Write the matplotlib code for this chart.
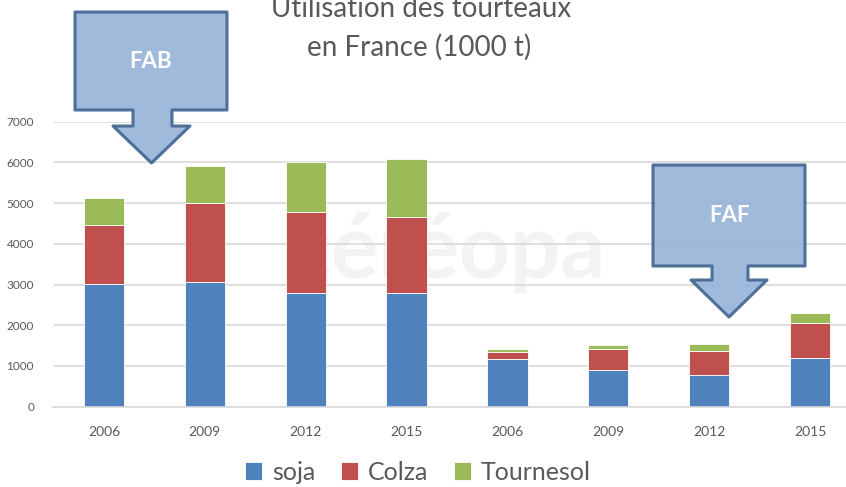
import numpy as np
import matplotlib.pyplot as plt
from matplotlib.patches import Polygon

# data (1000 t)
years = ['2006', '2009', '2012', '2015', '2006', '2009', '2012', '2015']
soja = [3020, 3070, 2800, 2800, 1170, 900, 770, 1200]
colza = [1440, 1930, 1980, 1870, 180, 510, 600, 860]
tournesol = [670, 900, 1235, 1410, 65, 100, 165, 245]
series_names = ['soja', 'Colza', 'Tournesol']
colors = ['#4F81BD', '#C0504D', '#9BBB59']

W, H = 846, 487
fig = plt.figure(figsize=(W/100, H/100), dpi=100)
plt.rcParams['font.family'] = ['Lato', 'DejaVu Sans']
txt = '#595959'

def px(x, y):
    return (x/W, 1 - y/H)

# axes spans past the right edge, like the cropped slide
x0, x1, y0, y1 = 53.5, 860.5, 406.7, 121.7
ax = fig.add_axes([x0/W, 1 - y0/H, (x1-x0)/W, (y0-y1)/H])
ax.set_xlim(-0.5, 7.5)
ax.set_ylim(0, 7000)

# faint watermark
ax.text(3.4, 3150, 'céréopa', fontsize=64, fontweight='bold', color='#F3F3F3',
        ha='center', va='baseline', zorder=0)

x = np.arange(len(years))
s = np.array(soja); c = np.array(colza); t = np.array(tournesol)
bw = 0.4
ax.bar(x, s, bw, color=colors[0], edgecolor='white', linewidth=0.6, zorder=2, label=series_names[0])
ax.bar(x, c, bw, bottom=s, color=colors[1], edgecolor='white', linewidth=0.6, zorder=2, label=series_names[1])
ax.bar(x, t, bw, bottom=s+c, color=colors[2], edgecolor='white', linewidth=0.6, zorder=2, label=series_names[2])

ax.set_yticks(range(0, 7001, 1000))
ax.yaxis.grid(True, color='#D9D9D9', linewidth=1.2, zorder=1)
ax.set_axisbelow(True)
for sp in ['top', 'right', 'left']:
    ax.spines[sp].set_visible(False)
ax.spines['bottom'].set_color('#D9D9D9')
ax.spines['bottom'].set_linewidth(1.2)
ax.set_xticks(x)
ax.set_xticklabels(years, fontsize=10, color=txt)
ax.tick_params(axis='x', length=0, pad=14)
ax.tick_params(axis='y', length=0, pad=14, labelsize=8.5, labelcolor=txt)

# title
fig.text(*px(421, 17), 'Utilisation des tourteaux', fontsize=20, color=txt, ha='center', va='baseline')
fig.text(*px(419, 56), 'en France (1000 t)', fontsize=20, color=txt, ha='center', va='baseline')

# callout arrows
def callout(bx0, bx1, by0, by1, nx0, nx1, ny, hx0, hx1, tip_y, label):
    tx = (hx0 + hx1) / 2
    pts = [(bx0, by0), (bx1, by0), (bx1, by1), (nx1, by1), (nx1, ny), (hx1, ny),
           (tx, tip_y), (hx0, ny), (nx0, ny), (nx0, by1), (bx0, by1)]
    poly = Polygon([px(a, b) for a, b in pts], closed=True, transform=fig.transFigure,
                   facecolor='#95B3D7', edgecolor='#41648F', linewidth=2.2, alpha=0.9,
                   joinstyle='round', zorder=5)
    fig.patches.append(poly)
    fig.text(*px((bx0 + bx1) / 2, (by0 + by1) / 2), label, fontsize=16, fontweight='bold',
             color='white', ha='center', va='center', zorder=6)

callout(75, 227, 12, 110, 133, 172, 126, 113, 190, 163, 'FAB')
callout(653, 805, 165, 266, 712, 748, 280, 691, 767, 317, 'FAF')

leg = fig.legend(loc='center', bbox_to_anchor=px(418, 472), ncol=3, frameon=False,
                 fontsize=18, labelcolor=txt, handlelength=0.7, handleheight=0.7,
                 handletextpad=0.4, columnspacing=1.0)

fig.savefig('out.png', dpi=100)
